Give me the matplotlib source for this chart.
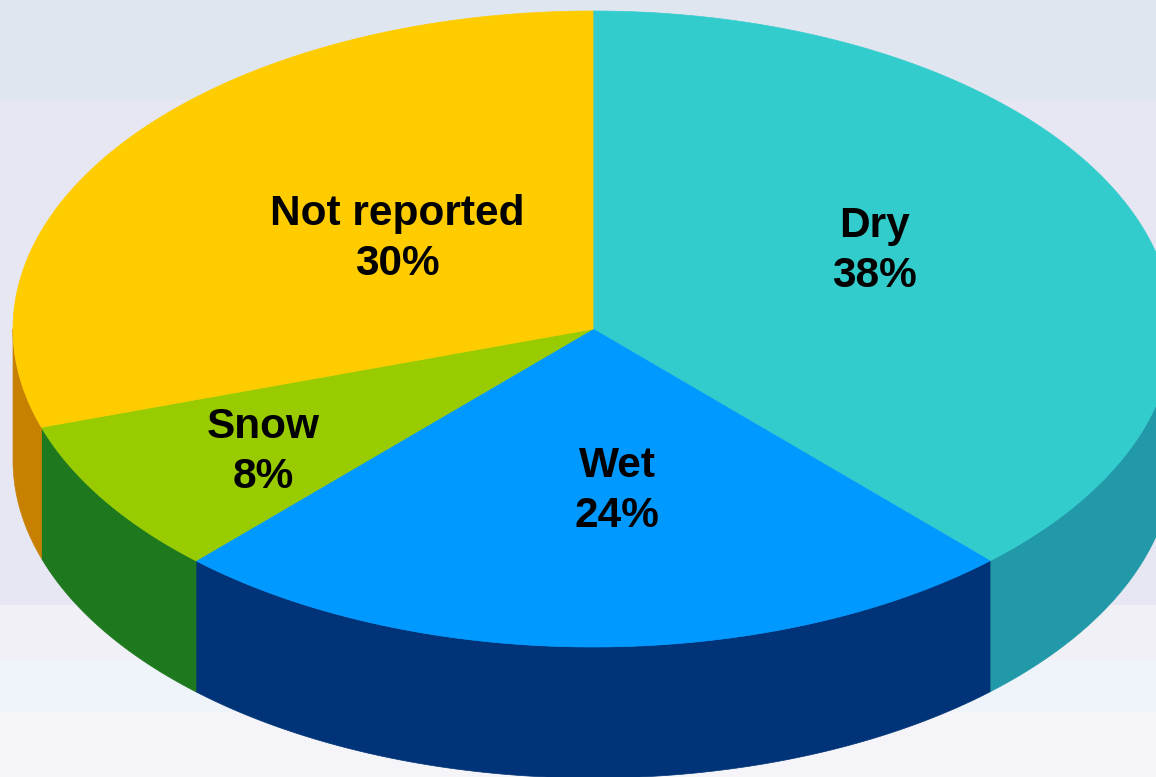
import numpy as np
import matplotlib.pyplot as plt
from matplotlib.colors import to_rgb
from matplotlib.patches import Polygon

labels = ["Dry", "Wet", "Snow", "Not reported"]
shares = [38, 24, 8, 30]
top_colors = ["#33CCCC", "#0099FF", "#99CC00", "#FFCC00"]
side_colors = ["#2199A8", "#003377", "#1E781E", "#C88000"]

# layout of the tilted pie, in pixels (y grows downwards)
CX, CY = 593.0, 329.0
RX, RY = 580.0, 318.0
DEPTH = 131.0
START = 90.0
# label placement: fraction of the radius and a small turn off the mid-angle
label_frac = [0.55, 0.50, 0.68, 0.45]
label_turn = [6.3, 4.8, 0.9, -5.3]
LINE_GAP = 50

W, H = 1156, 777
fig = plt.figure(figsize=(W / 100, H / 100), dpi=100)
ax = fig.add_axes([0, 0, 1, 1])
ax.set_xlim(0, W)
ax.set_ylim(H, 0)
ax.axis("off")

# soft banded background
bands = [(0, "#DFE6F0"), (100, "#E6E7F3"), (605, "#F0F0F6"),
         (660, "#EFF4FB"), (712, "#F4F4F9")]
bg = np.zeros((H, 1, 3))
for i, (y0, c) in enumerate(bands):
    y1 = bands[i + 1][0] if i + 1 < len(bands) else H
    bg[y0:y1, 0, :] = to_rgb(c)
ax.imshow(bg, extent=(0, W, H, 0), aspect="auto", zorder=0)


def arc(t0, t1, dy=0.0, n=200):
    t = np.radians(np.linspace(t0, t1, n))
    return np.column_stack((CX + RX * np.cos(t), CY - RY * np.sin(t) + dy))


fractions = np.array(shares) / sum(shares)
ends = START - 360.0 * np.cumsum(fractions)
begins = np.concatenate(([START], ends[:-1]))

# side walls: only the front half of the rim (-180..0 deg) is visible
for b, e, col in zip(begins, ends, side_colors):
    s0, s1 = max(e, -180.0), min(b, 0.0)
    if s1 > s0:
        top = arc(s1, s0)
        bottom = arc(s0, s1, DEPTH)
        ax.add_patch(Polygon(np.vstack((top, bottom)), closed=True,
                             facecolor=col, edgecolor=col, lw=0.5, zorder=2))

# top faces
for b, e, col in zip(begins, ends, top_colors):
    pts = np.vstack(([CX, CY], arc(b, e)))
    ax.add_patch(Polygon(pts, closed=True, facecolor=col, edgecolor=col,
                         lw=0.5, zorder=3))

for lab, share, b, e, f, turn in zip(labels, shares, begins, ends,
                                     label_frac, label_turn):
    mid = np.radians((b + e) / 2 + turn)
    x = CX + RX * f * np.cos(mid)
    y = CY - RY * f * np.sin(mid)
    for k, txt in enumerate((lab, f"{share}%")):
        ax.text(x, y + (k - 0.5) * LINE_GAP + 15, txt, ha="center",
                va="baseline", fontsize=30.5, fontweight="bold",
                family="Liberation Sans", color="black", zorder=4)

fig.savefig("out.png", dpi=100)
